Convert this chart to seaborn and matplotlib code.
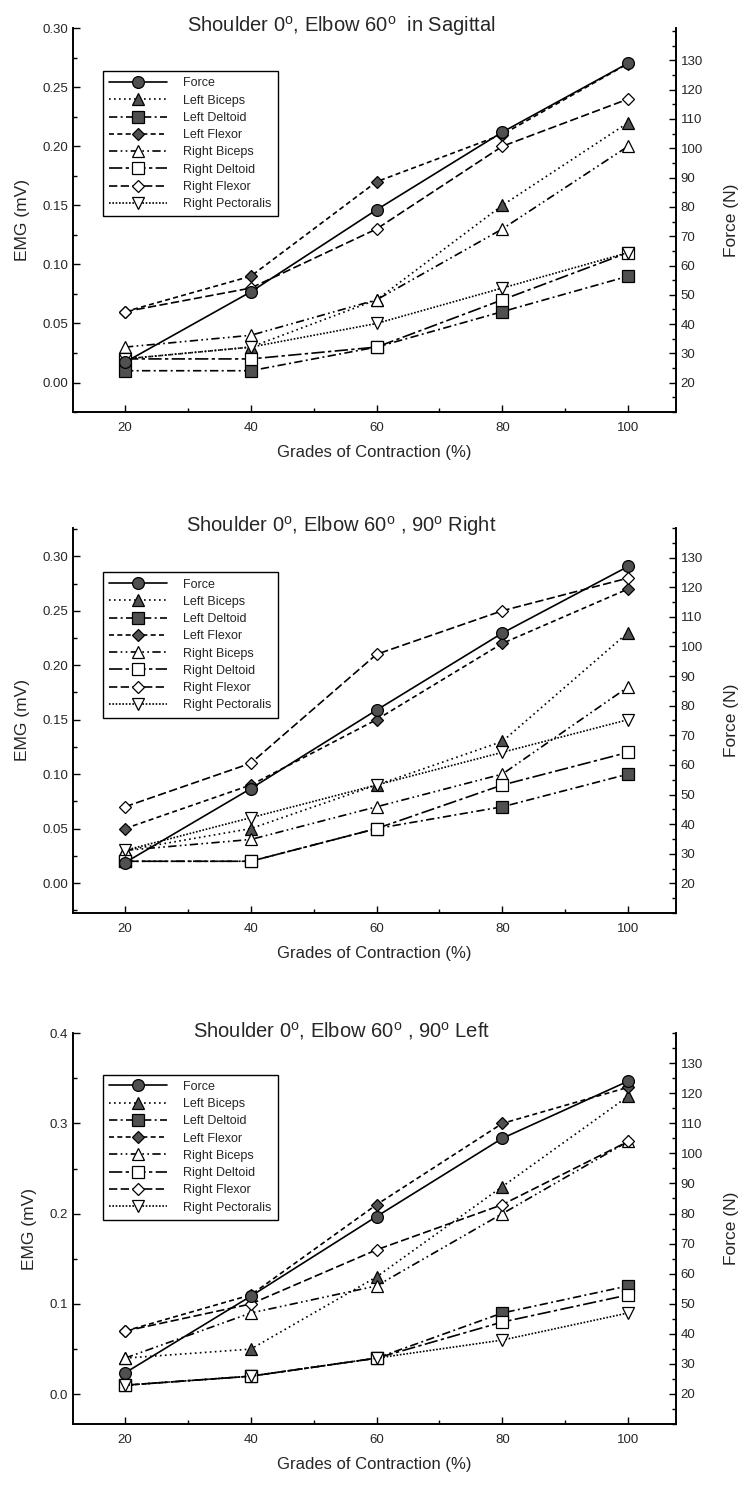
import numpy as np
import matplotlib
matplotlib.use('Agg')
import matplotlib.pyplot as plt
import seaborn as sns
from matplotlib.ticker import MultipleLocator, FormatStrFormatter

sns.set_style('white')
plt.rcParams['font.family'] = ['Liberation Sans', 'DejaVu Sans']
plt.rcParams['mathtext.fontset'] = 'custom'
plt.rcParams['mathtext.rm'] = 'Liberation Sans'

grades = [20, 40, 60, 80, 100]
muscles = ['Left Biceps', 'Left Deltoid', 'Left Flexor', 'Right Biceps',
           'Right Deltoid', 'Right Flexor', 'Right Pectoralis']

# shoulder 0, elbow 60, sagittal
sag_force = [27, 51, 79, 105.5, 129]
sag_left_biceps = [0.02, 0.03, 0.07, 0.15, 0.22]
sag_left_deltoid = [0.01, 0.01, 0.03, 0.06, 0.09]
sag_left_flexor = [0.06, 0.09, 0.17, 0.21, 0.27]
sag_right_biceps = [0.03, 0.04, 0.07, 0.13, 0.20]
sag_right_deltoid = [0.02, 0.02, 0.03, 0.07, 0.11]
sag_right_flexor = [0.06, 0.08, 0.13, 0.20, 0.24]
sag_right_pect = [0.02, 0.03, 0.05, 0.08, 0.11]

# 90 deg right
rt_force = [27, 52, 78.5, 104.5, 127]
rt_left_biceps = [0.03, 0.05, 0.09, 0.13, 0.23]
rt_left_deltoid = [0.02, 0.02, 0.05, 0.07, 0.10]
rt_left_flexor = [0.05, 0.09, 0.15, 0.22, 0.27]
rt_right_biceps = [0.03, 0.04, 0.07, 0.10, 0.18]
rt_right_deltoid = [0.02, 0.02, 0.05, 0.09, 0.12]
rt_right_flexor = [0.07, 0.11, 0.21, 0.25, 0.28]
rt_right_pect = [0.03, 0.06, 0.09, 0.12, 0.15]

# 90 deg left
lf_force = [27, 52.5, 79, 105, 124]
lf_left_biceps = [0.04, 0.05, 0.13, 0.23, 0.33]
lf_left_deltoid = [0.01, 0.02, 0.04, 0.09, 0.12]
lf_left_flexor = [0.07, 0.11, 0.21, 0.30, 0.34]
lf_right_biceps = [0.04, 0.09, 0.12, 0.20, 0.28]
lf_right_deltoid = [0.01, 0.02, 0.04, 0.08, 0.11]
lf_right_flexor = [0.07, 0.10, 0.16, 0.21, 0.28]
lf_right_pect = [0.01, 0.02, 0.04, 0.06, 0.09]

dark = '#505050'
styles = {
    'Force': dict(marker='o', ls='-', mfc=dark, ms=8.5),
    'Left Biceps': dict(marker='^', ls=(0, (1, 2)), mfc=dark, ms=8.5),
    'Left Deltoid': dict(marker='s', ls=(0, (5, 2, 1.2, 2)), mfc=dark, ms=8),
    'Left Flexor': dict(marker='D', ls=(0, (3, 2)), mfc=dark, ms=6.5),
    'Right Biceps': dict(marker='^', ls=(0, (5, 2, 1, 2, 1, 2)), mfc='white', ms=8.5),
    'Right Deltoid': dict(marker='s', ls=(0, (8, 2, 2, 2)), mfc='white', ms=8),
    'Right Flexor': dict(marker='D', ls=(0, (5, 2)), mfc='white', ms=6.5),
    'Right Pectoralis': dict(marker='v', ls=(0, (1, 1)), mfc='white', ms=8.5),
}


def draw_panel(ax, title, force, emg, ylim, ystep, yfmt, flim, leg_y):
    ax2 = ax.twinx()
    for name, vals in zip(muscles, emg):
        st = styles[name]
        sns.lineplot(x=grades, y=vals, ax=ax, color='black', lw=1.2,
                     marker=st['marker'], ms=st['ms'], mfc=st['mfc'],
                     mec='black', mew=0.9, linestyle=st['ls'],
                     label=name, legend=False)
    st = styles['Force']
    sns.lineplot(x=grades, y=force, ax=ax2, color='black', lw=1.2,
                 marker='o', ms=st['ms'], mfc=st['mfc'], mec='black',
                 mew=0.9, linestyle='-', label='Force', legend=False)

    ax.set_xlim(11.7, 107.6)
    ax.set_ylim(*ylim)
    ax2.set_ylim(*flim)
    ax.xaxis.set_major_locator(MultipleLocator(20))
    ax.xaxis.set_minor_locator(MultipleLocator(10))
    ax.yaxis.set_major_locator(MultipleLocator(ystep))
    ax.yaxis.set_minor_locator(MultipleLocator(ystep / 2))
    ax.yaxis.set_major_formatter(FormatStrFormatter(yfmt))
    ax2.set_yticks(np.arange(20, 131, 10))
    ax2.set_yticks(np.arange(10, 141, 5), minor=True)

    for a in (ax, ax2):
        a.spines['top'].set_visible(False)
        for s in ('left', 'right', 'bottom'):
            a.spines[s].set_linewidth(1.2)
            a.spines[s].set_color('black')
        a.tick_params(which='both', direction='in', color='black',
                      labelsize=9.5, width=1)
        a.tick_params(which='major', length=5)
        a.tick_params(which='minor', length=3)
    ax.tick_params(axis='y', which='both', left=True)
    ax.tick_params(axis='x', which='both', bottom=True, pad=7)
    ax2.tick_params(axis='y', which='both', right=True)

    ax.set_xlabel('Grades of Contraction (%)', fontsize=12, labelpad=8)
    ax.set_ylabel('EMG (mV)', fontsize=12.5, labelpad=9)
    ax2.set_ylabel('Force (N)', fontsize=12.5, labelpad=15)
    ax.text(0.445, 1.006, title, transform=ax.transAxes, ha='center',
            va='center', fontsize=14.5)

    handles = [ax2.get_lines()[0]] + list(ax.get_lines())
    labels = ['Force'] + muscles
    leg = ax2.legend(handles, labels, loc='upper left',
                     bbox_to_anchor=(0.04, leg_y), fontsize=9,
                     frameon=True, fancybox=False, framealpha=1,
                     edgecolor='black', handlelength=4.6,
                     handletextpad=1.3, labelspacing=0.42,
                     borderpad=0.5)
    leg.get_frame().set_linewidth(1.0)


fig = plt.figure(figsize=(7.43, 14.86), dpi=100)
ax1 = fig.add_axes([0.098, 0.7227, 0.8116, 0.2584])
ax2 = fig.add_axes([0.098, 0.3856, 0.8116, 0.2591])
ax3 = fig.add_axes([0.098, 0.0417, 0.8116, 0.2631])

draw_panel(ax1, r'Shoulder 0$^{\rm o}$, Elbow 60$^{\rm o}$  in Sagittal',
           sag_force,
           [sag_left_biceps, sag_left_deltoid, sag_left_flexor,
            sag_right_biceps, sag_right_deltoid, sag_right_flexor,
            sag_right_pect],
           (-0.025, 0.3001), 0.05, '%.2f', (10, 141), 0.904)
draw_panel(ax2, r'Shoulder 0$^{\rm o}$, Elbow 60$^{\rm o}$ , 90$^{\rm o}$ Right',
           rt_force,
           [rt_left_biceps, rt_left_deltoid, rt_left_flexor,
            rt_right_biceps, rt_right_deltoid, rt_right_flexor,
            rt_right_pect],
           (-0.0275, 0.326), 0.05, '%.2f', (10, 140), 0.901)
draw_panel(ax3, r'Shoulder 0$^{\rm o}$, Elbow 60$^{\rm o}$ , 90$^{\rm o}$ Left',
           lf_force,
           [lf_left_biceps, lf_left_deltoid, lf_left_flexor,
            lf_right_biceps, lf_right_deltoid, lf_right_flexor,
            lf_right_pect],
           (-0.033, 0.4001), 0.1, '%.1f', (10.5, 139), 0.91)

fig.savefig('out.png', dpi=100)
